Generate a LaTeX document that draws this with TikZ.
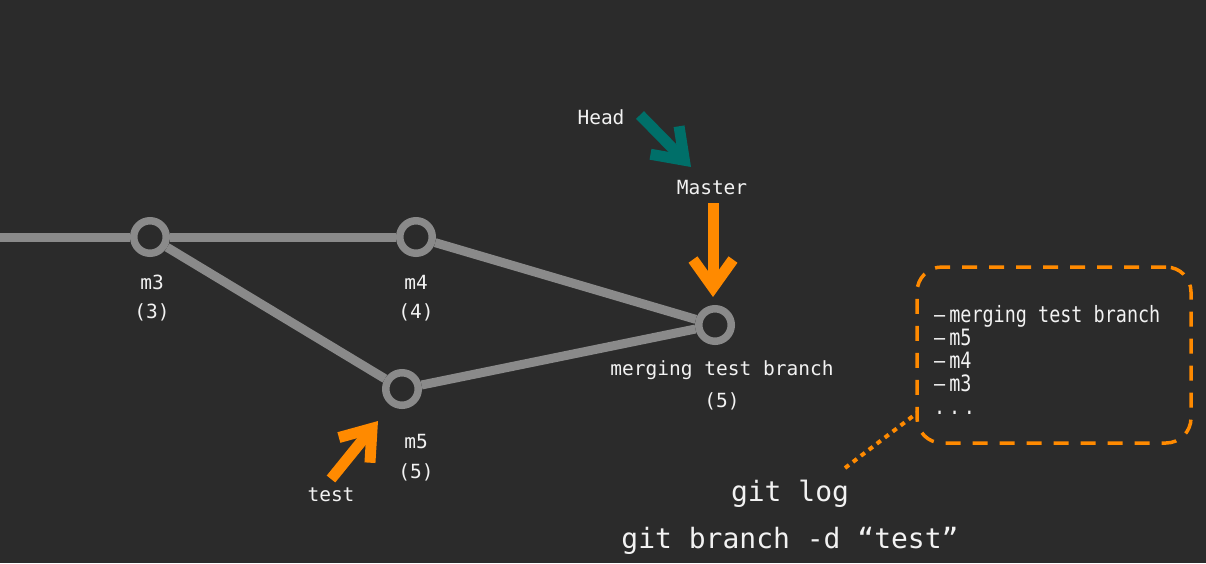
\documentclass[tikz,border=0pt]{standalone}
\usepackage{fontspec}
\setmonofont{DejaVu Sans Mono}
\newfontfamily\logfont[FakeStretch=0.82]{DejaVu Sans Mono}
\usetikzlibrary{arrows.meta}
\definecolor{bg}{HTML}{2B2B2B}
\definecolor{edgegray}{HTML}{8A8A8A}
\definecolor{ptrorange}{HTML}{FF8A00}
\definecolor{headteal}{HTML}{006F69}
\definecolor{txt}{HTML}{F2F2F2}
\begin{document}
\begin{tikzpicture}[x=1pt,y=-1pt,
    commit/.style={circle,draw=edgegray,fill=bg,line width=7.5pt,minimum size=32.5pt,inner sep=0pt},
    edge/.style={draw=edgegray,line width=9pt},
    lbl/.style={text=txt,font=\ttfamily\fontsize{19.5}{19.5}\selectfont,inner sep=0pt},
    cmd/.style={text=txt,font=\ttfamily\fontsize{28}{28}\selectfont,inner sep=0pt},
    ptr/.style={line width=11pt,-{Straight Barb[length=28pt,width=40pt]}}]
  \fill[bg] (0,0) rectangle (1206,563);
  \useasboundingbox (0,0) rectangle (1206,563);
  \draw
    (0,237) coordinate (start)
    (150,237) node[commit] (m3){}
    (416,237) node[commit] (m4){}
    (402,389) node[commit] (m5){}
    (715,325) node[commit] (merge){};
  \begin{scope}[edge]
    \draw (start) to (m3);
    \draw (m3) to (m4);
    \draw (m3) to (m5);
    \draw (m4) to (merge);
    \draw (m5) to (merge);
  \end{scope}
  % labels
  \node[lbl] (m3name) at (152,282) {m3};
  \node[lbl] (m3num) at (152,312) {(3)};
  \node[lbl] (m4name) at (416,282) {m4};
  \node[lbl] (m4num) at (416,312) {(4)};
  \node[lbl] (m5name) at (416,442) {m5};
  \node[lbl] (m5num) at (416,472) {(5)};
  \node[lbl] (mergename) at (722,370) {merging test branch};
  \node[lbl] (mergenum) at (722,401) {(5)};
  \node[lbl] (head) at (601,117) {Head};
  \node[lbl] (master) at (712,188) {Master};
  \node[lbl] (test) at (331,495) {test};
  % pointers
  \coordinate (headtail) at (640,115);
  \coordinate (headtip) at (691,167);
  \coordinate (mastertail) at (713,203);
  \coordinate (mastertip) at (713,297);
  \coordinate (testtail) at (331,479);
  \coordinate (testtip) at (378,421);
  \draw[ptr,headteal] (headtail) to (headtip);
  \draw[ptr,ptrorange] (mastertail) to (mastertip);
  \draw[ptr,ptrorange] (testtail) to (testtip);
  % git log box
  \node[draw=ptrorange,line width=3.5pt,dash pattern=on 15pt off 12pt,rounded corners=25pt,
    minimum width=274pt,minimum height=176pt] (logbox) at (1054,355) {};
  \node[anchor=north west,align=left,inner sep=0pt,text=txt,
    font=\logfont\fontsize{22.5}{23}\selectfont] (logtext) at (934,305)
    {—\hspace{4pt}merging test branch\\—\hspace{4pt}m5\\—\hspace{4pt}m4\\—\hspace{4pt}m3\\.\,.\,.};
  \node[cmd] (gitlog) at (790,494) {git log};
  \node[cmd] (gitdel) at (790,541) {git branch -d “test”};
  \coordinate (logfrom) at (845,468);
  \coordinate (logto) at (917,413);
  \draw[ptrorange,line width=4pt,dash pattern=on 5pt off 5pt] (logfrom) to (logto);
\end{tikzpicture}
\end{document}
